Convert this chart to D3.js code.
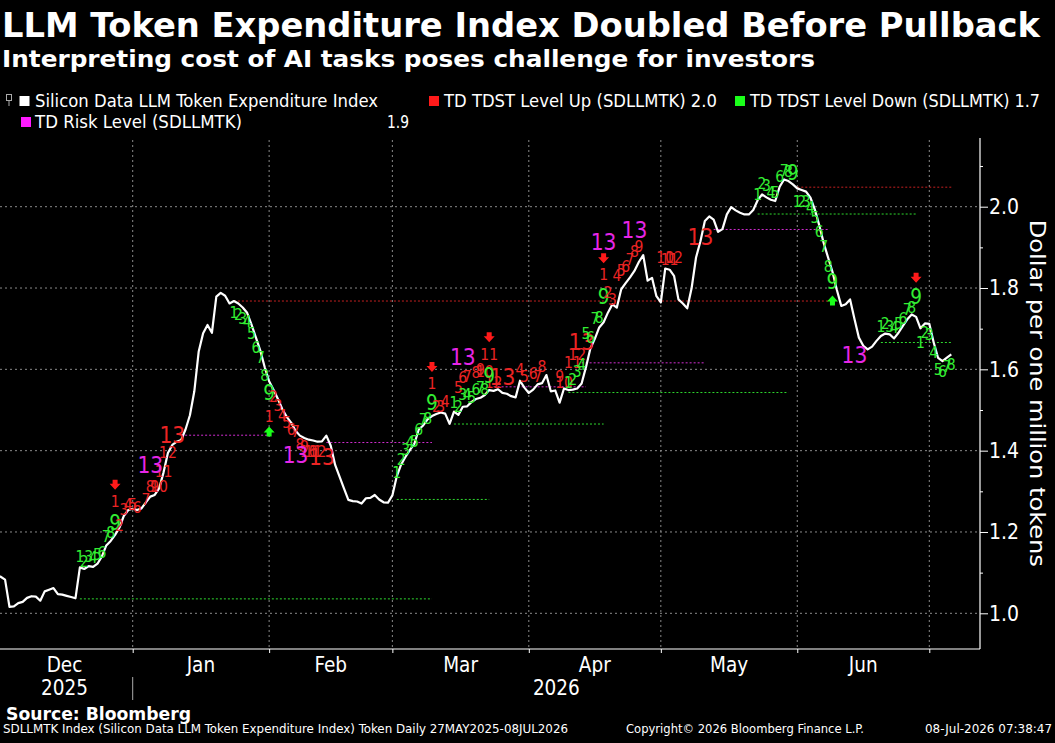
<!DOCTYPE html>
<html><head><meta charset="utf-8">
<script src="https://cdn.jsdelivr.net/npm/d3@7"></script>
<style>html,body{margin:0;padding:0;background:#000;}svg{display:block;}</style>
</head><body>
<svg id="chart" width="1055" height="743"></svg>
<script>
// ---------------- DATA ----------------
const seriesStart = "2025-12-01";
const valuesDec2025 = [1.092,1.090,1.083,1.016,1.017,1.025,1.028,1.038,1.042,1.041,1.031,1.054,1.058,1.062,1.047,1.046,1.043,1.040,1.037,1.113,1.109,1.116,1.114,1.122,1.140,1.167,1.178,1.193,1.211,1.240,1.254];
const valuesJan2026 = [1.257,1.254,1.258,1.273,1.287,1.291,1.307,1.346,1.394,1.414,1.422,1.426,1.452,1.487,1.546,1.644,1.689,1.709,1.690,1.779,1.788,1.781,1.762,1.768,1.762,1.752,1.739,1.710,1.678,1.646,1.605];
const valuesFeb2026 = [1.571,1.550,1.527,1.502,1.483,1.469,1.449,1.437,1.431,1.427,1.425,1.422,1.423,1.437,1.412,1.365,1.336,1.307,1.279,1.276,1.275,1.270,1.283,1.284,1.291,1.280,1.273,1.272];
const valuesMar2026 = [1.290,1.337,1.366,1.385,1.402,1.417,1.452,1.462,1.477,1.485,1.490,1.494,1.491,1.466,1.496,1.488,1.508,1.509,1.520,1.527,1.530,1.537,1.549,1.547,1.551,1.542,1.540,1.534,1.531,1.572,1.555];
const valuesApr2026 = [1.542,1.550,1.563,1.566,1.586,1.546,1.548,1.518,1.553,1.549,1.550,1.553,1.565,1.606,1.652,1.675,1.703,1.716,1.740,1.760,1.752,1.797,1.812,1.826,1.842,1.864,1.881,1.818,1.825,1.780];
const valuesMay2026 = [1.765,1.848,1.845,1.830,1.772,1.762,1.750,1.800,1.875,1.915,1.965,1.976,1.968,1.938,1.945,1.981,1.999,1.991,1.985,1.981,1.981,1.992,2.016,2.030,2.023,2.017,2.014,2.049,2.067,2.063,2.055];
const valuesJun2026 = [2.045,2.041,2.037,2.022,1.993,1.954,1.911,1.875,1.840,1.795,1.756,1.760,1.772,1.724,1.678,1.658,1.649,1.656,1.670,1.682,1.688,1.686,1.676,1.690,1.707,1.723,1.735,1.729,1.701,1.713];
const valuesJul2026 = [1.712,1.666,1.628,1.620,1.629,1.637];

const monthStartDates = ["2025-12-01","2026-01-01","2026-02-01","2026-03-01","2026-04-01","2026-05-01","2026-06-01","2026-07-01"];
const monthLabels = ["Dec","Jan","Feb","Mar","Apr","May","Jun"];
const yearLabels = ["2025","2026"];
const yMajorTicks = [1.0,1.2,1.4,1.6,1.8,2.0];
const yMinorTicks = [1.1,1.3,1.5,1.7,1.9,2.1];

// TD levels: [from, to, level]
const tdstUpLevels = [["2026-01-24","2026-06-08",1.768],["2026-06-01","2026-07-06",2.048]];
const tdstDownLevels = [["2025-12-20","2026-03-10",1.0355],["2026-03-02","2026-03-23",1.280],["2026-03-15","2026-04-18",1.4655],["2026-04-10","2026-05-30",1.543],["2026-05-23","2026-06-28",1.982],["2026-06-20","2026-07-06",1.666]];
const riskLevels = [["2026-01-12","2026-02-01",1.438],["2026-02-14","2026-03-10",1.420],["2026-03-24","2026-04-14",1.557],["2026-04-13","2026-05-11",1.616],["2026-05-13","2026-06-08",1.944]];

// arrows: [date, level]
const sellArrows = [["2025-12-28",1.316],["2026-03-10",1.606],["2026-03-23",1.679],["2026-04-18",1.873],["2026-06-28",1.825]];
const buyArrows = [["2026-02-01",1.447],["2026-06-09",1.769]];

// TD count labels: [date, level, text, kind]  g/G green small/big, r/R red small/big, M magenta
const tdCounts = [
["2025-12-20",1.139,"1","g"],["2025-12-21",1.127,"2","g"],["2025-12-22",1.139,"3","g"],["2025-12-23",1.135,"4","g"],["2025-12-24",1.143,"5","g"],["2025-12-25",1.148,"6","g"],["2025-12-26",1.188,"7","g"],["2025-12-27",1.198,"8","g"],["2025-12-28",1.221,"9","G"],
["2025-12-28",1.274,"1","r"],["2025-12-29",1.215,"2","r"],["2025-12-30",1.254,"3","r"],["2025-12-31",1.266,"4","r"],["2026-01-01",1.266,"5","r"],["2026-01-02",1.258,"6","r"],["2026-01-04",1.279,"7","r"],["2026-01-05",1.311,"8","r"],["2026-01-06",1.311,"9","r"],["2026-01-07",1.311,"10","r"],["2026-01-08",1.348,"11","r"],["2026-01-09",1.395,"12","r"],["2026-01-10",1.438,"13","R"],["2026-01-05",1.365,"13","M"],
["2026-01-24",1.739,"1","g"],["2026-01-25",1.733,"2","g"],["2026-01-26",1.725,"3","g"],["2026-01-27",1.717,"4","g"],["2026-01-28",1.688,"5","g"],["2026-01-29",1.652,"6","g"],["2026-01-30",1.627,"7","g"],["2026-01-31",1.583,"8","g"],["2026-02-01",1.541,"9","G"],
["2026-02-01",1.483,"1","r"],["2026-02-02",1.533,"2","r"],["2026-02-03",1.510,"3","r"],["2026-02-04",1.485,"4","r"],["2026-02-05",1.469,"5","r"],["2026-02-06",1.452,"6","r"],["2026-02-07",1.447,"7","r"],["2026-02-08",1.414,"8","r"],["2026-02-09",1.410,"9","r"],["2026-02-10",1.397,"10","r"],["2026-02-11",1.397,"11","r"],["2026-02-12",1.397,"12","r"],["2026-02-13",1.385,"13","R"],["2026-02-07",1.389,"13","M"],
["2026-03-02",1.344,"1","g"],["2026-03-03",1.377,"2","g"],["2026-03-04",1.402,"3","g"],["2026-03-05",1.418,"4","g"],["2026-03-06",1.422,"5","g"],["2026-03-07",1.451,"6","g"],["2026-03-08",1.475,"7","g"],["2026-03-09",1.477,"8","g"],["2026-03-10",1.516,"9","G"],
["2026-03-10",1.564,"1","r"],["2026-03-11",1.508,"2","r"],["2026-03-12",1.508,"3","r"],["2026-03-13",1.520,"4","r"],["2026-03-16",1.553,"5","r"],["2026-03-17",1.578,"6","r"],["2026-03-18",1.582,"7","r"],["2026-03-20",1.590,"8","r"],["2026-03-21",1.598,"9","r"],["2026-03-22",1.594,"10","r"],["2026-03-23",1.635,"11","r"],["2026-03-24",1.566,"12","r"],["2026-03-26",1.582,"13","R"],["2026-03-17",1.631,"13","M"],
["2026-03-15",1.518,"1","g"],["2026-03-16",1.508,"2","g"],["2026-03-17",1.537,"3","g"],["2026-03-18",1.537,"4","g"],["2026-03-19",1.529,"5","g"],["2026-03-20",1.549,"6","g"],["2026-03-21",1.553,"7","g"],["2026-03-22",1.549,"8","g"],["2026-03-23",1.584,"9","G"],
["2026-03-30",1.598,"4","r"],["2026-03-31",1.580,"5","r"],["2026-04-02",1.588,"6","r"],["2026-04-03",1.582,"7","r"],["2026-04-04",1.606,"8","r"],["2026-04-08",1.582,"9","r"],["2026-04-09",1.566,"10","r"],["2026-04-11",1.616,"11","r"],["2026-04-12",1.635,"12","r"],["2026-04-13",1.668,"13","R"],
["2026-04-10",1.566,"1","g"],["2026-04-11",1.574,"2","g"],["2026-04-12",1.594,"3","g"],["2026-04-13",1.611,"4","g"],["2026-04-14",1.688,"5","g"],["2026-04-15",1.676,"6","g"],["2026-04-16",1.724,"7","g"],["2026-04-17",1.727,"8","g"],["2026-04-18",1.778,"9","G"],
["2026-04-18",1.832,"1","r"],["2026-04-19",1.788,"2","r"],["2026-04-20",1.770,"3","r"],["2026-04-21",1.829,"4","r"],["2026-04-22",1.842,"5","r"],["2026-04-23",1.852,"6","r"],["2026-04-24",1.870,"7","r"],["2026-04-25",1.889,"8","r"],["2026-04-26",1.901,"9","r"],["2026-04-18",1.914,"13","M"],["2026-04-25",1.942,"13","M"],
["2026-05-02",1.873,"10","r"],["2026-05-03",1.869,"11","r"],["2026-05-04",1.875,"12","r"],["2026-05-10",1.926,"13","R"],
["2026-05-23",2.029,"1","g"],["2026-05-24",2.057,"2","g"],["2026-05-25",2.051,"3","g"],["2026-05-26",2.033,"4","g"],["2026-05-27",2.034,"5","g"],["2026-05-28",2.074,"6","g"],["2026-05-29",2.088,"7","g"],["2026-05-30",2.086,"8","g"],["2026-05-31",2.083,"9","G"],
["2026-06-01",2.012,"1","g"],["2026-06-02",2.012,"2","g"],["2026-06-03",2.012,"3","g"],["2026-06-04",1.998,"4","g"],["2026-06-05",1.971,"5","g"],["2026-06-06",1.938,"6","g"],["2026-06-07",1.901,"7","g"],["2026-06-08",1.852,"8","g"],["2026-06-09",1.815,"9","G"],
["2026-06-14",1.635,"13","M"],
["2026-06-20",1.705,"1","g"],["2026-06-21",1.711,"2","g"],["2026-06-22",1.705,"3","g"],["2026-06-23",1.701,"4","g"],["2026-06-24",1.711,"5","g"],["2026-06-25",1.725,"6","g"],["2026-06-26",1.747,"7","g"],["2026-06-27",1.750,"8","g"],["2026-06-28",1.778,"9","G"],
["2026-06-29",1.665,"1","g"],["2026-06-30",1.690,"2","g"],["2026-07-01",1.684,"3","g"],["2026-07-02",1.639,"4","g"],["2026-07-03",1.598,"5","g"],["2026-07-04",1.594,"6","g"],["2026-07-05",1.606,"7","g"],["2026-07-06",1.611,"8","g"]
];

const titleText = "LLM Token Expenditure Index Doubled Before Pullback";
const subtitleText = "Interpreting cost of AI tasks poses challenge for investors";
const legendNames = ["Silicon Data LLM Token Expenditure Index","TD TDST Level Up (SDLLMTK) 2.0","TD TDST Level Down (SDLLMTK) 1.7","TD Risk Level (SDLLMTK)"];
const legendColors = ["#ffffff","#ff1a1a","#1aff1a","#ff1aff"];
const riskLegendValue = "1.9";
const yAxisTitle = "Dollar per one million tokens";
const sourceText = "Source: Bloomberg";
const footerTexts = ["SDLLMTK Index (Silicon Data LLM Token Expenditure Index) Token Daily 27MAY2025-08JUL2026","Copyright\u00a9 2026 Bloomberg Finance L.P.","08-Jul-2026 07:38:47"];

// ---------------- DRAW ----------------
const fontC = "'DejaVu Sans Condensed','Liberation Sans Narrow','DejaVu Sans',sans-serif";
const parse = d3.utcParse("%Y-%m-%d");
const allValues = [].concat(valuesDec2025,valuesJan2026,valuesFeb2026,valuesMar2026,valuesApr2026,valuesMay2026,valuesJun2026,valuesJul2026);
const series = allValues.map((v,i)=>({date:d3.utcDay.offset(parse(seriesStart),i),value:v}));

const svg = d3.select("#chart");
svg.append("rect").attr("width",1055).attr("height",743).attr("fill","#000");
const plot = {left:0,right:980,top:138,bottom:649};
const x = d3.scaleUtc().domain([parse("2026-01-01"),parse("2026-07-01")]).range([132.7,929.3]);
const y = d3.scaleLinear().domain([1.0,2.0]).range([613.3,206.7]);

const COL = {g:"#33ee33",G:"#33ee33",r:"#ec2424",R:"#ec2424",M:"#e626e6"};

svg.append("defs").append("clipPath").attr("id","clip").append("rect")
  .attr("x",plot.left).attr("y",plot.top).attr("width",plot.right-plot.left).attr("height",plot.bottom-plot.top);

// Title
svg.append("text").attr("x",2).attr("y",36.5).attr("fill","#fff").attr("font-family",fontC).attr("font-weight","bold")
  .attr("font-size",34).attr("textLength",1038).attr("lengthAdjust","spacingAndGlyphs").text(titleText);
svg.append("text").attr("x",2).attr("y",66.5).attr("fill","#fff").attr("font-family",fontC).attr("font-weight","bold")
  .attr("font-size",23).attr("textLength",813).attr("lengthAdjust","spacingAndGlyphs").text(subtitleText);

// Legend
const lg = svg.append("g").attr("font-family",fontC).attr("font-size",18.5).attr("fill","#fff");
lg.append("rect").attr("x",6.5).attr("y",94.5).attr("width",5).attr("height",6).attr("fill","none").attr("stroke","#aaa").attr("stroke-width",1);
lg.append("line").attr("x1",9).attr("x2",9).attr("y1",100.5).attr("y2",106).attr("stroke","#aaa");
const legendPos = [[19.5,96,35,106.7,343],[429,96,444,106.7,273],[735,96,750,106.7,290],[21,117,35,127.7,207]];
legendNames.forEach((name,i)=>{
  const p = legendPos[i];
  lg.append("rect").attr("x",p[0]).attr("y",p[1]).attr("width",10).attr("height",10).attr("fill",legendColors[i]);
  lg.append("text").attr("x",p[2]).attr("y",p[3]).attr("textLength",p[4]).attr("lengthAdjust","spacingAndGlyphs").text(name);
});
lg.append("text").attr("x",387).attr("y",127.7).attr("textLength",22).attr("lengthAdjust","spacingAndGlyphs").text(riskLegendValue);

// Grid
const monthStarts = monthStartDates.map(parse);
const grid = svg.append("g").attr("stroke","#8a8a8a").attr("stroke-width",1).attr("stroke-dasharray","2,3");
grid.selectAll("line.h").data(yMajorTicks).join("line").attr("class","h")
  .attr("x1",plot.left).attr("x2",plot.right).attr("y1",d=>y(d)).attr("y2",d=>y(d));
grid.selectAll("line.v").data(monthStarts.slice(1)).join("line").attr("class","v")
  .attr("x1",d=>x(d)).attr("x2",d=>x(d)).attr("y1",plot.top+2).attr("y2",plot.bottom);

// Levels
const chart = svg.append("g").attr("clip-path","url(#clip)");
function drawLevels(arr,color){
  chart.append("g").attr("stroke",color).attr("stroke-width",1).attr("stroke-dasharray","2,2")
    .selectAll("line").data(arr).join("line")
    .attr("x1",d=>x(parse(d[0]))).attr("x2",d=>x(parse(d[1])))
    .attr("y1",d=>y(d[2])).attr("y2",d=>y(d[2]));
}
drawLevels(tdstUpLevels,"#c42020");
drawLevels(tdstDownLevels,"#2ed82e");
drawLevels(riskLevels,"#d22cd2");

// Main line
chart.append("path").datum(series)
  .attr("d",d3.line().x(d=>x(d.date)).y(d=>y(d.value)))
  .attr("fill","none").attr("stroke","#fff").attr("stroke-width",2.2).attr("stroke-linejoin","round");

// TD labels
chart.append("g").attr("font-family",fontC).attr("text-anchor","middle").attr("dominant-baseline","central")
  .selectAll("text").data(tdCounts).join("text")
  .attr("x",d=>x(parse(d[0]))).attr("y",d=>y(d[1]))
  .attr("fill",d=>COL[d[3]])
  .attr("font-size",d=>d[3]==="g"||d[3]==="r"?15.5:(d[3]==="G"?20.5:22.5))
  .text(d=>d[2]);

// Arrows
const downArrow = "M-2.5,-5H2.5V-1H5.5L0,5L-5.5,-1H-2.5Z";
const upArrow = "M-2.5,5H2.5V1H5.5L0,-5L-5.5,1H-2.5Z";
chart.append("g").selectAll("path").data(sellArrows).join("path")
  .attr("d",downArrow).attr("fill","#ff1a1a")
  .attr("transform",d=>`translate(${x(parse(d[0]))},${y(d[1])})`);
chart.append("g").selectAll("path").data(buyArrows).join("path")
  .attr("d",upArrow).attr("fill","#1aff1a")
  .attr("transform",d=>`translate(${x(parse(d[0]))},${y(d[1])})`);

// Y axis (right)
const ga = svg.append("g").attr("transform",`translate(${plot.right},0)`)
  .call(d3.axisRight(y).tickValues(yMajorTicks).tickSize(8).tickPadding(1).tickFormat(d3.format(".1f")));
ga.select(".domain").remove();
ga.selectAll("line").attr("stroke","#fff");
ga.selectAll("text").attr("fill","#fff").attr("font-size",21).attr("font-family",fontC);
const gm = svg.append("g").attr("transform",`translate(${plot.right},0)`)
  .call(d3.axisRight(y).tickValues(yMinorTicks).tickSize(3).tickFormat(""));
gm.select(".domain").remove();
gm.selectAll("line").attr("stroke","#fff");
svg.append("line").attr("x1",plot.right).attr("x2",plot.right).attr("y1",plot.top).attr("y2",plot.bottom).attr("stroke","#fff").attr("stroke-width",1.2);
svg.append("text").attr("transform",`translate(1030,393.3) rotate(90)`).attr("text-anchor","middle")
  .attr("fill","#fff").attr("font-family",fontC).attr("font-size",22)
  .attr("textLength",347).attr("lengthAdjust","spacingAndGlyphs").text(yAxisTitle);

// X axis
const gx = svg.append("g").attr("transform",`translate(0,${plot.bottom})`)
  .call(d3.axisBottom(x).tickValues(monthStarts.slice(1)).tickSize(4).tickFormat(""));
gx.select(".domain").remove();
gx.selectAll("line").attr("stroke","#fff");
svg.append("line").attr("x1",plot.left).attr("x2",plot.right).attr("y1",plot.bottom).attr("y2",plot.bottom).attr("stroke","#fff").attr("stroke-width",1.2);
const xl = svg.append("g").attr("font-family",fontC).attr("font-size",20.5).attr("fill","#fff").attr("text-anchor","middle");
monthLabels.forEach((m,i)=>{
  const mid = new Date((+monthStarts[i] + +monthStarts[i+1])/2);
  xl.append("text").attr("x",x(mid)).attr("y",671.7).text(m);
});
xl.append("text").attr("x",x(new Date((+monthStarts[0] + +monthStarts[1])/2))).attr("y",695).text(yearLabels[0]);
xl.append("text").attr("x",(x(monthStarts[1])+plot.right)/2).attr("y",695).text(yearLabels[1]);
svg.append("line").attr("x1",x(monthStarts[1])).attr("x2",x(monthStarts[1])).attr("y1",677).attr("y2",700).attr("stroke","#aaa").attr("stroke-width",1);

// Footer
svg.append("text").attr("x",6).attr("y",720).attr("fill","#fff").attr("font-family",fontC).attr("font-weight","bold")
  .attr("font-size",18).attr("textLength",185).attr("lengthAdjust","spacingAndGlyphs").text(sourceText);
const fpos = [[3,565],[626,238],[925,127]];
footerTexts.forEach((t,i)=>{
  svg.append("text").attr("x",fpos[i][0]).attr("y",733).attr("fill","#fff").attr("font-family",fontC)
    .attr("font-size",13).attr("textLength",fpos[i][1]).attr("lengthAdjust","spacingAndGlyphs").text(t);
});
</script>
</body></html>
